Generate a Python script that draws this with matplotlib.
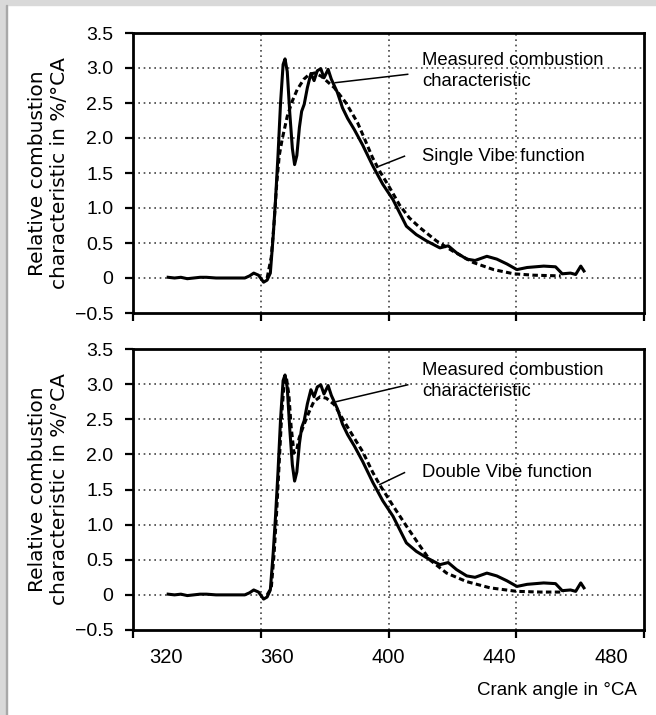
import matplotlib
matplotlib.use('Agg')
import matplotlib.pyplot as plt
from matplotlib import font_manager
from matplotlib.patches import Rectangle

# measured combustion characteristic (same trace in both panels)
crank_meas = [331.0, 333.0, 335.0, 337.0, 339.0, 341.0, 343.0, 346.0, 349.0, 352.0, 355.0,
              356.5, 357.8, 359.3, 360.9, 362.0, 363.0, 363.9, 364.6, 365.4, 366.2, 367.0,
              367.6, 368.3, 369.1, 369.9, 370.6, 371.3, 372.1, 372.8, 373.6, 374.6, 375.7,
              376.7, 377.7, 378.8, 379.8, 381.1, 382.1, 384.0, 385.6, 387.2, 389.3, 391.9,
              395.1, 398.2, 401.4, 403.5, 405.6, 408.7, 411.9, 416.1, 418.7, 421.3, 424.5,
              427.1, 430.8, 433.9, 437.1, 440.2, 443.4, 448.6, 452.3, 454.4, 457.0, 458.6,
              460.2, 461.2]
measured = [0.01, 0.0, 0.01, -0.01, 0.0, 0.01, 0.01, 0.0, 0.0, 0.0, 0.0,
            0.03, 0.07, 0.04, -0.06, -0.03, 0.07, 0.6, 1.1, 1.75, 2.5, 3.05,
            3.13, 2.95, 2.35, 1.85, 1.62, 1.75, 2.15, 2.38, 2.48, 2.72, 2.92,
            2.82, 2.96, 2.99, 2.86, 2.98, 2.84, 2.65, 2.43, 2.28, 2.12, 1.9,
            1.6, 1.34, 1.12, 0.93, 0.74, 0.62, 0.53, 0.43, 0.46, 0.36, 0.27,
            0.25, 0.31, 0.27, 0.2, 0.12, 0.15, 0.17, 0.16, 0.06, 0.07, 0.05,
            0.17, 0.1]

# single Vibe function
crank_single = [362.0, 363.3, 364.2, 365.0, 365.8, 366.7, 368.3, 369.9, 371.4, 373.5, 375.2,
                377.0, 379.0, 381.0, 383.0, 386.7, 390.3, 392.4, 395.0, 397.2, 400.5, 403.5,
                406.5, 409.8, 415.0, 420.3, 426.6, 432.9, 439.2, 445.5, 453.9]
single = [0.0, 0.3, 0.8, 1.35, 1.75, 1.98, 2.31, 2.53, 2.69, 2.84, 2.91,
          2.93, 2.88, 2.8, 2.72, 2.5, 2.22, 2.0, 1.72, 1.53, 1.28, 1.04,
          0.86, 0.72, 0.53, 0.38, 0.22, 0.12, 0.06, 0.04, 0.03]

# double Vibe function
crank_double = [362.0, 363.3, 364.2, 365.0, 365.8, 366.6, 367.4, 368.0, 368.8, 369.5, 370.4,
                371.2, 372.0, 373.5, 375.1, 376.6, 378.6, 380.5, 383.0, 386.1, 389.3, 391.9,
                395.0, 397.2, 401.4, 405.6, 409.8, 412.9, 418.2, 424.4, 431.8, 440.2, 447.6,
                454.9]
double = [0.0, 0.1, 0.6, 1.2, 1.9, 2.6, 3.05, 3.1, 2.85, 2.4, 2.02,
          2.05, 2.23, 2.42, 2.6, 2.75, 2.82, 2.8, 2.71, 2.47, 2.23, 2.04,
          1.75, 1.57, 1.27, 0.98, 0.7, 0.5, 0.31, 0.19, 0.1, 0.05, 0.04,
          0.04]

x_ticks = [320, 360, 400, 440, 480]
y_ticks = [-0.5, 0, 0.5, 1.0, 1.5, 2.0, 2.5, 3.0, 3.5]
y_labels = ['\u22120.5', '0', '0.5', '1.0', '1.5', '2.0', '2.5', '3.0', '3.5']

avail = {f.name for f in font_manager.fontManager.ttflist}
narrow = 'Liberation Sans Narrow' if 'Liberation Sans Narrow' in avail else 'Liberation Sans'
plt.rcParams['font.family'] = ['Liberation Sans', 'DejaVu Sans']

fig = plt.figure(figsize=(6.56, 7.15), dpi=100)
fig.patches.append(Rectangle((0, 1 - 5 / 715), 1, 5 / 715, transform=fig.transFigure,
                             color='#d9d9d9', zorder=0))
fig.patches.append(Rectangle((0, 0), 6 / 656, 1, transform=fig.transFigure,
                             color='#d9d9d9', zorder=0))
fig.patches.append(Rectangle((6 / 656, 0), 1.2 / 656, 1 - 5 / 715, transform=fig.transFigure,
                             color='#a8a8a8', zorder=0))

grid_style = dict(color='#444444', lw=1.2, ls=(0, (1, 2.2)), zorder=1)


def panel(rect, fit_x, fit_y, fit_name, label_x, lead_meas, lead_fit, txt_meas_y, txt_fit_y):
    ax = fig.add_axes(rect)
    ax.set_xlim(320, 480)
    ax.set_ylim(-0.5, 3.5)
    for s in ax.spines.values():
        s.set_linewidth(2.0)
    for v in [360, 400, 440]:
        ax.axvline(v, **grid_style)
    for v in [0, 0.5, 1.0, 1.5, 2.0, 2.5, 3.0]:
        ax.axhline(v, **grid_style)
    ax.set_yticks(y_ticks, y_labels, fontsize=14)
    ax.set_xticks(x_ticks)
    ax.tick_params(axis='both', which='major', direction='out', length=6, width=1.6, pad=8)
    ax.set_xticklabels([])
    if label_x:
        # the printed labels sit slightly off their ticks in the original
        ax.set_xticks([400.01 + (t - 400) * 0.87 for t in x_ticks], [str(t) for t in x_ticks],
                      minor=True, fontsize=14.5, family=narrow)
        ax.tick_params(axis='x', which='minor', length=0, pad=13)
    ax.plot(crank_meas, measured, color='black', lw=2.2, zorder=3)
    ax.plot(fit_x, fit_y, color='black', lw=2.2, ls=(0, (1.8, 1.1)), zorder=2)
    ax.set_ylabel('Relative combustion\ncharacteristic in %/\u00b0CA', fontsize=14.5,
                  family='DejaVu Sans', linespacing=1.2)
    ax.yaxis.set_label_coords(-0.125, 0.5)
    ax.plot(lead_meas[0], lead_meas[1], color='black', lw=1.1, zorder=4)
    ax.plot(lead_fit[0], lead_fit[1], color='black', lw=1.1, zorder=4)
    ax.text(410.6, txt_meas_y, 'Measured combustion\ncharacteristic', fontsize=13.3,
            va='top', ha='left', linespacing=1.3)
    ax.text(410.4, txt_fit_y, fit_name, fontsize=13.3, va='top', ha='left')
    return ax


panel([133 / 656, 1 - 313 / 715, 511 / 656, 280 / 715], crank_single, single,
      'Single Vibe function', False,
      ([383.3, 406.0], [2.79, 2.91]), ([397.2, 405.0], [1.6, 1.74]), 3.23, 1.86)
panel([133 / 656, 1 - 630 / 715, 511 / 656, 281 / 715], crank_double, double,
      'Double Vibe function', True,
      ([383.6, 406.0], [2.75, 2.99]), ([397.2, 405.0], [1.57, 1.74]), 3.32, 1.87)

fig.text(637 / 656, 1 - 695 / 715, 'Crank angle in \u00b0CA', fontsize=13.5, ha='right',
         va='baseline', family=narrow)

fig.savefig('out.png', dpi=100)
